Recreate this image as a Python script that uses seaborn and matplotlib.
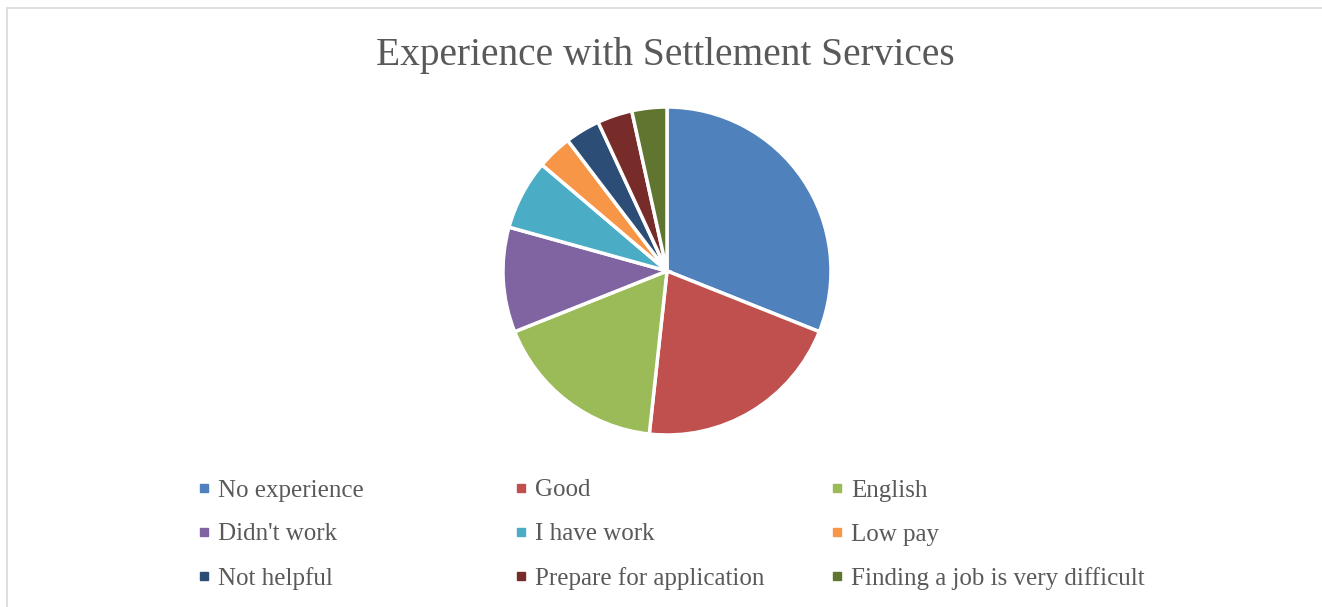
import matplotlib
matplotlib.use("Agg")
import matplotlib.pyplot as plt
from matplotlib.lines import Line2D
import seaborn as sns

# Survey responses: experience with settlement services (counts)
categories = ["No experience", "Good", "English", "Didn't work", "I have work",
              "Low pay", "Not helpful", "Prepare for application",
              "Finding a job is very difficult"]
counts = [9, 6, 5, 3, 2, 1, 1, 1, 1]
colors = ["#4F81BD", "#C0504D", "#9BBB59", "#8064A2", "#4BACC6",
          "#F79646", "#2C4D75", "#772C2A", "#5F7530"]
title = "Experience with Settlement Services"

sns.set_theme(style="white")
palette = sns.color_palette(colors)
plt.rcParams["font.family"] = ["Liberation Serif", "DejaVu Serif"]

W, H = 1322, 607
fig = plt.figure(figsize=(W / 100, H / 100), dpi=100)
fig.patch.set_facecolor("white")

# Pie axes: centre (667, 271) px, radius 164 px
cx, cy, r = 667, 271, 164
ax = fig.add_axes([(cx - r) / W, (H - cy - r) / H, 2 * r / W, 2 * r / H])
wedges, _ = ax.pie(counts, colors=palette, startangle=90, counterclock=False,
                   radius=1.0,
                   wedgeprops=dict(edgecolor="white", linewidth=2.5,
                                   clip_on=False))
ax.set_xlim(-1.0, 1.0)
ax.set_ylim(-1.0, 1.0)
ax.set_aspect("equal")
ax.axis("off")

fig.text(665 / W, 1 - 55 / H, title, ha="center", va="center",
         fontsize=28.4, color="#595959")

# Legend: three columns, entries in row-major order
col_x = [198, 515, 831]
for j in range(3):
    idx = [j, j + 3, j + 6]
    handles = [Line2D([], [], marker="s", linestyle="none", markersize=6,
                      markerfacecolor=palette[i], markeredgecolor=palette[i])
               for i in idx]
    labels = [categories[i] for i in idx]
    fig.legend(handles, labels, loc="upper left",
               bbox_to_anchor=(col_x[j] / W, 1 - 479 / H),
               frameon=False, fontsize=18, labelcolor="#595959",
               handlelength=0.5, handletextpad=0.3, labelspacing=0.86,
               borderpad=0, borderaxespad=0)

# Light chart-area border along the top and left
fig.add_artist(Line2D([6.5 / W, 1], [1 - 7.5 / H, 1 - 7.5 / H],
                      transform=fig.transFigure, color="#d9d9d9", lw=1.2))
fig.add_artist(Line2D([6.5 / W, 6.5 / W], [0, 1 - 7.5 / H],
                      transform=fig.transFigure, color="#d9d9d9", lw=1.2))

fig.savefig("out.png", dpi=100, facecolor="white")
